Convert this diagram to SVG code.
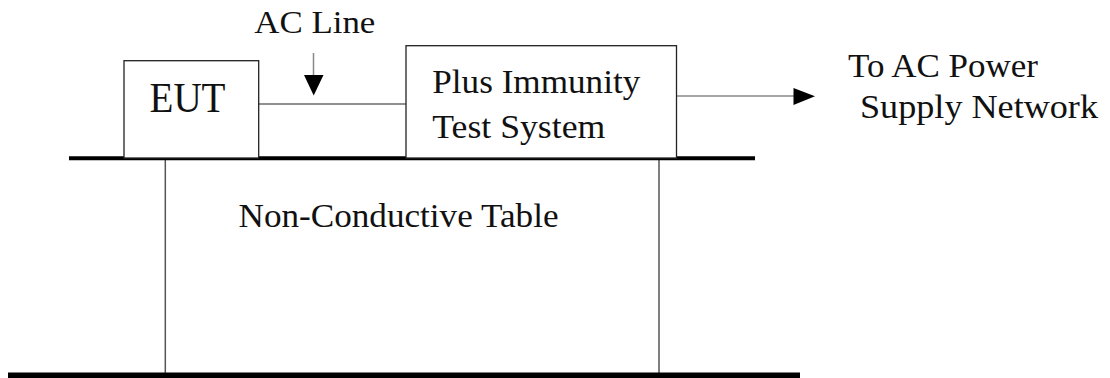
<svg xmlns="http://www.w3.org/2000/svg" width="1110" height="378" viewBox="0 0 1110 378">
<style>
.box{fill:#fff;stroke:#222;stroke-width:1.3}
.leg{stroke:#555;stroke-width:1.5;fill:none}
.thick{stroke:#000;fill:none}
.wire{stroke:#222;stroke-width:1.2;fill:none}
.gwire{stroke:#888;stroke-width:1.5;fill:none}
.head{fill:#000}
text{font-family:"Liberation Serif","Times New Roman",serif;fill:#111}
</style>
<rect width="1110" height="378" fill="#fff"/>
<g id="table">
<line class="leg" x1="165.3" y1="158" x2="165.3" y2="373"/>
<line class="leg" x1="659" y1="158" x2="659" y2="373"/>
<text x="238.5" y="226.5" font-size="33" textLength="320" lengthAdjust="spacingAndGlyphs">Non-Conductive Table</text>
</g>
<g id="floor">
<line class="thick" x1="8" y1="375.5" x2="800" y2="375.5" stroke-width="6"/>
</g>
<g id="tabletop">
<line class="thick" x1="69" y1="158.3" x2="755" y2="158.3" stroke-width="4"/>
</g>
<g id="connectors">
<line class="wire" x1="258.7" y1="104" x2="406" y2="104"/>
<line class="gwire" x1="676.5" y1="96" x2="795" y2="96"/>
<polygon class="head" points="793.5,88 815,96.3 793.5,105"/>
<line class="gwire" x1="313.5" y1="53" x2="313.5" y2="76"/>
<polygon class="head" points="304,75 323.5,75 313.7,95.5"/>
</g>
<g id="eut">
<rect class="box" x="124" y="60.7" width="134.7" height="97.3"/>
<text x="149.5" y="112.3" font-size="43" textLength="76" lengthAdjust="spacingAndGlyphs">EUT</text>
</g>
<g id="ac-line-label">
<text x="254.3" y="33.3" font-size="31" textLength="121" lengthAdjust="spacingAndGlyphs">AC Line</text>
</g>
<g id="plus">
<rect class="box" x="406" y="45.7" width="270.5" height="112.3"/>
<text x="432.3" y="93.3" font-size="33" textLength="208" lengthAdjust="spacingAndGlyphs">Plus Immunity</text>
<text x="432.3" y="138.3" font-size="33" textLength="173" lengthAdjust="spacingAndGlyphs">Test System</text>
</g>
<g id="network-label">
<text x="848" y="76.7" font-size="33" textLength="190" lengthAdjust="spacingAndGlyphs">To AC Power</text>
<text x="860" y="118" font-size="33" textLength="238" lengthAdjust="spacingAndGlyphs">Supply Network</text>
</g>
</svg>
